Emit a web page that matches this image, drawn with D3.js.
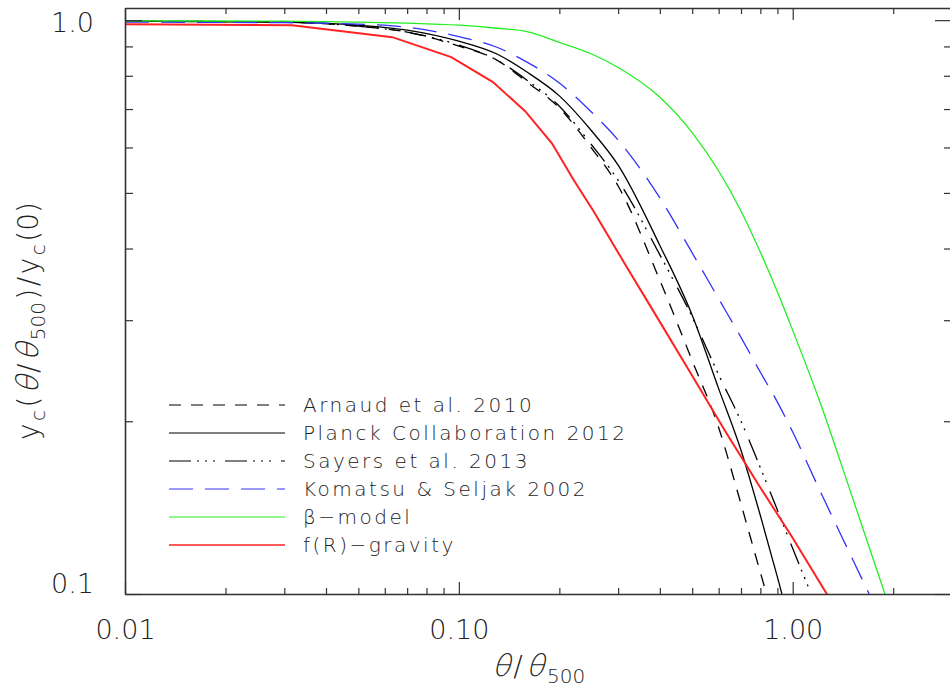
<!DOCTYPE html>
<html>
<head>
<meta charset="utf-8">
<script src="https://cdn.jsdelivr.net/npm/d3@7"></script>
<style>
  html, body { margin: 0; padding: 0; background: #fff; }
  svg { display: block; font-family: "DejaVu Sans", sans-serif; font-weight: 200; }
</style>
</head>
<body>
<svg id="chart" width="950" height="688"></svg>
<script>
// ---------------- data ----------------
const thetaGrid = [0.01, 0.03, 0.05, 0.07, 0.1, 0.13, 0.16, 0.2, 0.25, 0.3, 0.4, 0.5, 0.6, 0.7, 0.8, 0.9, 1.0, 1.2, 1.5, 1.9];

const arnaud  = [0.996, 0.992, 0.976, 0.953, 0.901, 0.852, 0.780, 0.703, 0.598, 0.514, 0.352, 0.255, 0.195, 0.1435, 0.109, 0.086];
const planck  = [0.996, 0.992, 0.980, 0.961, 0.919, 0.873, 0.812, 0.738, 0.641, 0.559, 0.405, 0.306, 0.228, 0.178, 0.137, 0.107, 0.085];
const sayers  = [0.996, 0.992, 0.976, 0.953, 0.905, 0.852, 0.786, 0.708, 0.606, 0.526, 0.390, 0.304, 0.241, 0.200, 0.166, 0.140, 0.120, 0.0926];
const komatsu = [0.992, 0.990, 0.984, 0.972, 0.936, 0.897, 0.845, 0.777, 0.691, 0.618, 0.490, 0.393, 0.327, 0.280, 0.2435, 0.216, 0.1915, 0.1524, 0.116, 0.087];
const betaModel = [0.997, 0.996, 0.992, 0.988, 0.980, 0.968, 0.955, 0.915, 0.873, 0.827, 0.734, 0.637, 0.546, 0.465, 0.394, 0.336, 0.288, 0.218, 0.149, 0.099];

const fRTheta = [0.01, 0.0316, 0.0632, 0.0949, 0.1265, 0.158, 0.19, 0.221, 0.253, 0.316, 0.40, 0.50, 0.63, 0.79, 1.0, 1.265, 1.4];
const fRGravity = [0.984, 0.980, 0.934, 0.862, 0.780, 0.694, 0.610, 0.526, 0.465, 0.374, 0.298, 0.240, 0.1915, 0.155, 0.1252, 0.100, 0.090];

const seriesNames = ["Arnaud et al. 2010", "Planck Collaboration 2012", "Sayers et al. 2013", "Komatsu & Seljak 2002", "β−model", "f(R)−gravity"];

const xMajorTicks = [0.01, 0.1, 1];
const xMajorLabels = ["0.01", "0.10", "1.00"];
const xMinorTicks = [0.02, 0.03, 0.04, 0.05, 0.06, 0.07, 0.08, 0.09, 0.2, 0.3, 0.4, 0.5, 0.6, 0.7, 0.8, 0.9, 2, 3];
const yMajorTicks = [0.1, 1.0];
const yMajorLabels = ["0.1", "1.0"];
const yMinorTicks = [0.2, 0.3, 0.4, 0.5, 0.6, 0.7, 0.8, 0.9];

// ---------------- layout ----------------
const svg = d3.select("#chart");
const L = 125, R = 952, T = 8, B = 594;
const x = d3.scaleLog().domain([0.01, 3]).range([L, R]);
const y = d3.scaleLog().domain([0.1, 1.05]).range([B, T]);

const axisColor = "#333";
const textColor = "#222";
const series = [
  { name: seriesNames[0], xs: thetaGrid, ys: arnaud,    color: "#000", width: 1.3, dash: "12,10", smooth: true },
  { name: seriesNames[1], xs: thetaGrid, ys: planck,    color: "#000", width: 1.3, dash: null, smooth: true },
  { name: seriesNames[2], xs: thetaGrid, ys: sayers,    color: "#000", width: 1.3, dash: "22,6,2,6,2,6,2,10", smooth: true },
  { name: seriesNames[3], xs: thetaGrid, ys: komatsu,   color: "#3232ff", width: 1.3, dash: "24,12", smooth: true },
  { name: seriesNames[4], xs: thetaGrid, ys: betaModel, color: "#22ee22", width: 1.3, dash: null, smooth: true },
  { name: seriesNames[5], xs: fRTheta,   ys: fRGravity, color: "#ff2222", width: 2.0, dash: null, smooth: false }
];

svg.append("defs").append("clipPath").attr("id", "plotclip")
  .append("rect").attr("x", L).attr("y", T).attr("width", R - L).attr("height", B - T);

const lineLinear = d3.line().x(d => x(d[0])).y(d => y(d[1]));
const lineSmooth = d3.line().x(d => x(d[0])).y(d => y(d[1])).curve(d3.curveMonotoneX);
const gLines = svg.append("g").attr("clip-path", "url(#plotclip)");
series.forEach(s => {
  const pts = s.ys.map((v, i) => [s.xs[i], v]);
  gLines.append("path")
    .attr("d", (s.smooth ? lineSmooth : lineLinear)(pts))
    .attr("fill", "none")
    .attr("stroke", s.color)
    .attr("stroke-width", s.width)
    .attr("stroke-dasharray", s.dash);
});

// ---------------- axes ----------------
function styleAxis(g) {
  g.select(".domain").attr("stroke", axisColor).attr("stroke-width", 1.6);
  g.selectAll(".tick line").attr("stroke", axisColor).attr("stroke-width", 1.2);
}

// bottom
const gB = svg.append("g").attr("transform", `translate(0,${B})`);
gB.call(d3.axisBottom(x).tickValues(xMajorTicks).tickFormat((d, i) => xMajorLabels[i]).tickSizeInner(-12).tickSizeOuter(0).tickPadding(26));
styleAxis(gB);
gB.selectAll(".tick text").attr("font-size", 27).attr("fill", textColor).attr("font-family", "DejaVu Sans, sans-serif").attr("font-weight", 200);
const gBm = svg.append("g").attr("transform", `translate(0,${B})`);
gBm.call(d3.axisBottom(x).tickValues(xMinorTicks).tickFormat("").tickSizeInner(-6).tickSizeOuter(0));
styleAxis(gBm); gBm.select(".domain").remove();

// top
const gT = svg.append("g").attr("transform", `translate(0,${T})`);
gT.call(d3.axisTop(x).tickValues(xMajorTicks).tickFormat("").tickSizeInner(-12).tickSizeOuter(0));
styleAxis(gT);
const gTm = svg.append("g").attr("transform", `translate(0,${T})`);
gTm.call(d3.axisTop(x).tickValues(xMinorTicks).tickFormat("").tickSizeInner(-6).tickSizeOuter(0));
styleAxis(gTm); gTm.select(".domain").remove();

// left
const gL = svg.append("g").attr("transform", `translate(${L},0)`);
gL.call(d3.axisLeft(y).tickValues(yMajorTicks).tickFormat((d, i) => yMajorLabels[i]).tickSizeInner(-17).tickSizeOuter(0).tickPadding(31));
styleAxis(gL);
gL.selectAll(".tick text").attr("font-size", 27).attr("fill", textColor).attr("font-family", "DejaVu Sans, sans-serif").attr("font-weight", 200)
  .attr("dy", (d) => d === 0.1 ? "-0.05em" : "0.42em");
const gLm = svg.append("g").attr("transform", `translate(${L},0)`);
gLm.call(d3.axisLeft(y).tickValues(yMinorTicks).tickFormat("").tickSizeInner(-8).tickSizeOuter(0));
styleAxis(gLm); gLm.select(".domain").remove();

// right
const gR = svg.append("g").attr("transform", `translate(${R},0)`);
gR.call(d3.axisRight(y).tickValues(yMajorTicks).tickFormat("").tickSizeInner(-17).tickSizeOuter(0));
styleAxis(gR);
const gRm = svg.append("g").attr("transform", `translate(${R},0)`);
gRm.call(d3.axisRight(y).tickValues(yMinorTicks).tickFormat("").tickSizeInner(-8).tickSizeOuter(0));
styleAxis(gRm); gRm.select(".domain").remove();

// ---------------- axis titles (segment layout, slanted theta) ----------------
function richLabel(parent, segs, gap) {
  const g = parent.append("g");
  let cx = 0;
  segs.forEach(s => {
    const sg = g.append("g").attr("transform", `translate(${cx},${s.dy || 0})` + (s.slant ? " skewX(-16)" : ""));
    const t = sg.append("text").attr("x", 0).attr("y", 0)
      .attr("font-size", s.size).attr("fill", textColor).text(s.t);
    const w = t.node().getComputedTextLength();
    cx += w + gap;
  });
  const total = cx - gap;
  g.attr("data-w", total);
  return { g, total };
}
const MAIN = 28, SUB = 20;
const xSegs = [
  { t: "θ", size: MAIN + 2, slant: true },
  { t: "/", size: MAIN },
  { t: "θ", size: MAIN + 2, slant: true },
  { t: "500", size: SUB, dy: 7 }
];
const xWrap = svg.append("g");
const xr = richLabel(xWrap, xSegs, 3);
xWrap.attr("transform", `translate(${(L + R) / 2 - xr.total / 2},676)`);

const ySegs = [
  { t: "y", size: MAIN },
  { t: "c", size: SUB, dy: 7 },
  { t: "(", size: MAIN },
  { t: "θ", size: MAIN + 2, slant: true },
  { t: "/", size: MAIN },
  { t: "θ", size: MAIN + 2, slant: true },
  { t: "500", size: SUB, dy: 7 },
  { t: ")", size: MAIN },
  { t: "/", size: MAIN },
  { t: "y", size: MAIN },
  { t: "c", size: SUB, dy: 7 },
  { t: "(0)", size: MAIN }
];
const yWrap = svg.append("g");
const yInner = yWrap.append("g");
const yr = richLabel(yInner, ySegs, 2.5);
yInner.attr("transform", `translate(${-yr.total / 2},0)`);
yWrap.attr("transform", `translate(38,321) rotate(-90)`);

// ---------------- legend ----------------
const legY0 = 405, legDy = 28;
const gLeg = svg.append("g");
series.forEach((s, i) => {
  const yy = legY0 + i * legDy;
  gLeg.append("line")
    .attr("x1", 169).attr("x2", 285).attr("y1", yy).attr("y2", yy)
    .attr("stroke", s.color).attr("stroke-width", i === 5 ? 1.5 : 1.2)
    .attr("stroke-dasharray", s.dash);
  gLeg.append("text")
    .attr("x", 303).attr("y", yy + 7)
    .attr("font-size", 20).attr("fill", textColor).attr("letter-spacing", 2.5)
    .text(s.name);
});
</script>
</body>
</html>
